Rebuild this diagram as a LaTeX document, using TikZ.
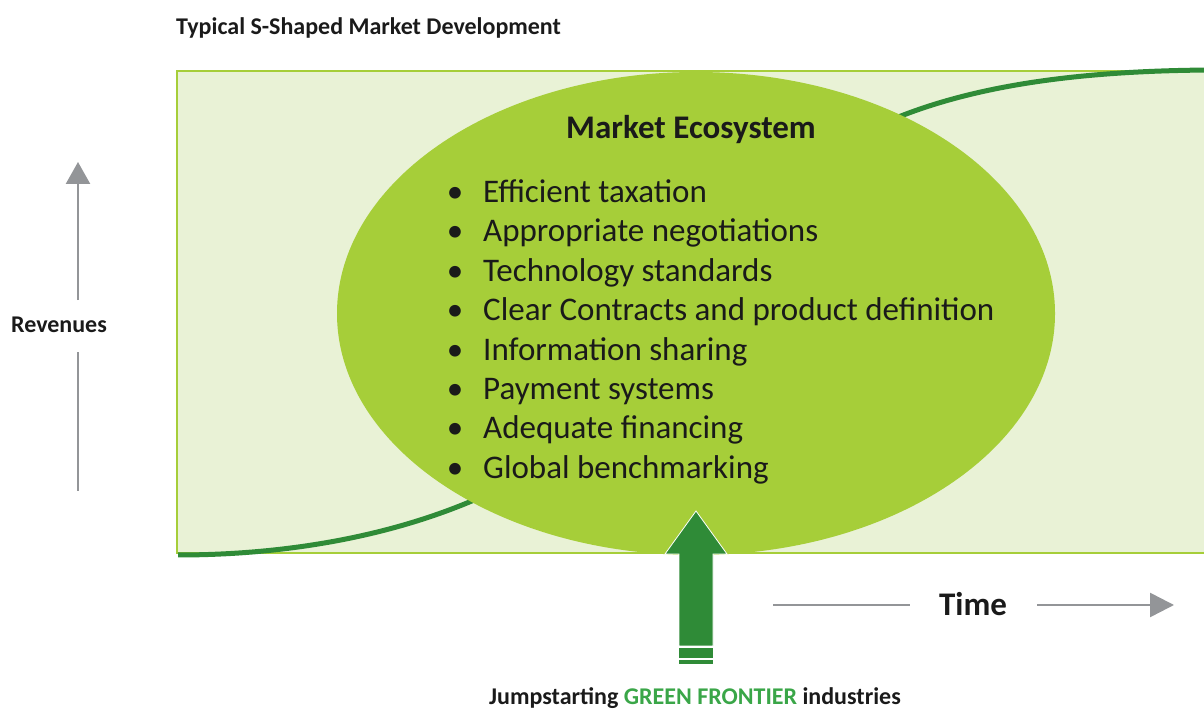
\documentclass[tikz,border=0pt]{standalone}
\usepackage{fontspec}
\setmainfont{Carlito}
\usepackage{tikz}
\usetikzlibrary{arrows.meta}
\usetikzlibrary{shapes.geometric}

\definecolor{lightfill}{RGB}{233,242,214}
\definecolor{lime}{RGB}{166,206,57}
\definecolor{darkgreen}{RGB}{47,139,55}
\definecolor{axisgray}{RGB}{147,149,152}
\definecolor{textgreen}{RGB}{58,166,72}
\definecolor{textblack}{RGB}{26,26,26}

\tikzset{
  axisline/.style={draw=axisgray, line width=2.5pt},
  smalltext/.style={font=\fontsize{24}{29}\selectfont\bfseries, text=textblack, inner sep=0pt},
  bigtext/.style={font=\fontsize{33}{40}\selectfont, text=textblack, inner sep=0pt},
  bigbold/.style={bigtext, font=\fontsize{33}{40}\selectfont\bfseries}
}

\begin{document}
\begin{tikzpicture}[x=1pt,y=1pt]
\useasboundingbox (0,0) rectangle (1204,711);
\clip (0,0) rectangle (1204,711);

%draw background box
\draw[fill=lightfill, draw=lime, line width=2pt] (177,158) rectangle (1215,640);

%draw s-curve
\draw[darkgreen, line width=5pt] (178,156) .. controls (370,156) and (590,215) .. (690,400)
  .. controls (780,580) and (940,640) .. (1215,641);

%draw ecosystem ellipse
\node[ellipse, fill=lime, minimum width=718pt, minimum height=483pt, inner sep=0pt] (eco) at (696,397.5) {};

\node[bigbold, anchor=base] (ecotitle) at (691,572) {Market Ecosystem};

%draw list items
\foreach \entry [count=\i from 0] in {Efficient taxation, Appropriate negotiations, Technology standards,
  Clear Contracts and product definition, Information sharing, Payment systems,
  Adequate financing, Global benchmarking}
{
\node[bigtext, anchor=base] (bul\i) at (455,{508.5-39.4*\i}) {\textbullet};
\node[bigtext, anchor=base west] (entry\i) at (483,{508.5-39.4*\i}) {\entry};
}

%draw labels
\node[smalltext, anchor=base west] (title) at (176,676) {Typical S-Shaped Market Development};
\node[smalltext, anchor=base] (rev) at (59,378) {Revenues};
\node[bigbold, anchor=base] (time) at (973,95) {Time};
\node[smalltext, anchor=base] (jump) at (695,6) {Jumpstarting \textcolor{textgreen}{GREEN FRONTIER} industries};

%draw revenues axis
\coordinate (revlow) at (78,220);
\coordinate (revtip) at (78,549);
\draw[axisline, shorten >=19pt] (revlow) -- (revlow |- rev.south);
\draw[axisline, shorten <=17pt, -{Triangle[length=22pt, width=24pt]}] (revlow |- rev.north) -- (revtip);

%draw time axis
\coordinate (tstart) at (773,106);
\coordinate (tend) at (1174,106);
\draw[axisline, shorten >=29pt] (tstart) -- (tstart -| time.west);
\draw[axisline, shorten <=30pt, -{Triangle[length=24pt, width=24pt]}] (tend -| time.east) -- (tend);

%draw jumpstart arrow
\filldraw[fill=darkgreen, draw=white, line width=0.8pt] (696,200) -- (727,157) -- (713,157) -- (713,65)
  -- (679,65) -- (679,157) -- (665,157) -- cycle;
\fill[darkgreen] (679,53) rectangle (713,63);
\fill[darkgreen] (679,47) rectangle (713,51);
\end{tikzpicture}
\end{document}
